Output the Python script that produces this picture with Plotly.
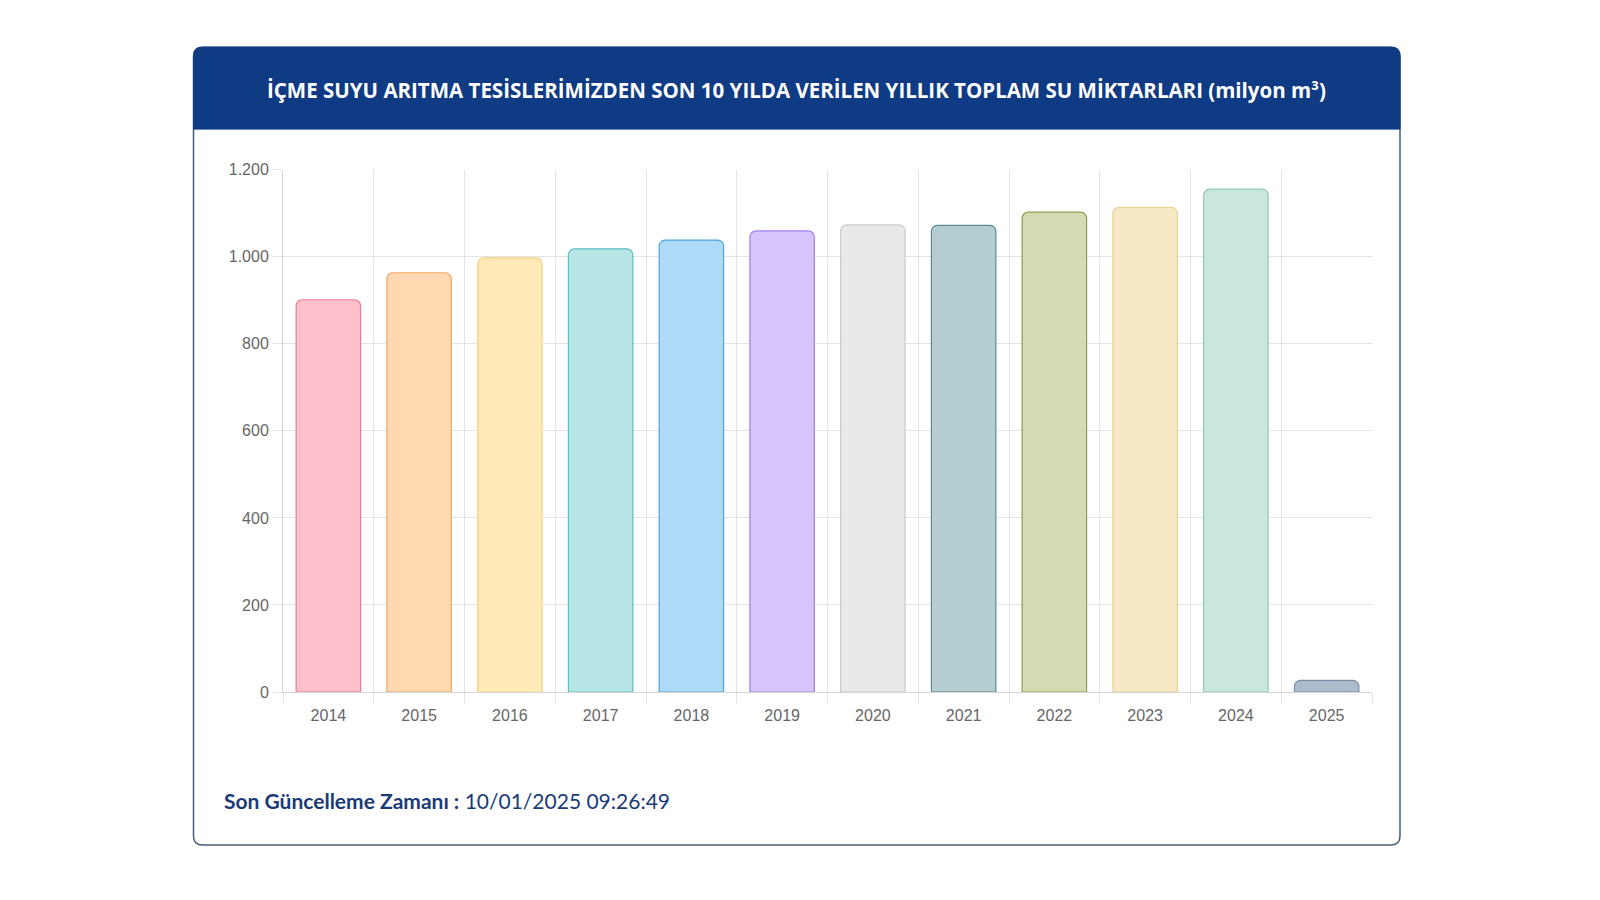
import plotly.graph_objects as go

years = ["2014", "2015", "2016", "2017", "2018", "2019", "2020", "2021", "2022", "2023", "2024", "2025"]
values = [901, 963, 997, 1018, 1038, 1059, 1073, 1072, 1102, 1113, 1155, 27]
fill_colors = ["#ffc0cc", "#ffd8b1", "#ffeab8", "#b8e6e6", "#afdaf7", "#d6c5fd",
               "#e8e9eb", "#b3cdd1", "#d5dab2", "#f7e9c6", "#c9e7dd", "#adbccd"]
line_colors = ["#f07a93", "#f5a962", "#f5d27a", "#5cbdbd", "#4aa6e0", "#a07ef0",
               "#c9cbcf", "#5f8a90", "#8f9a50", "#e6d290", "#94c7b2", "#7c8ea5"]
y_ticks = [0, 200, 400, 600, 800, 1000, 1200]
y_tick_labels = ["0", "200", "400", "600", "800", "1.000", "1.200"]

title_text = "İÇME SUYU ARITMA TESİSLERİMİZDEN SON 10 YILDA VERİLEN YILLIK TOPLAM SU MİKTARLARI (milyon m³)"
footer_label = "Son Güncelleme Zamanı :"
footer_value = "10/01/2025 09:26:49"

W, H = 1600, 900
# empirical vertical correction observed in rendering
Y_OFF, Y_SCALE = 7.3, 0.982


def px(x):
    return x / W


def py(y):
    yc = (y - Y_OFF) / Y_SCALE
    return 1 - yc / H


fig = go.Figure()
fig.add_trace(go.Bar(
    x=years, y=values,
    marker=dict(color=fill_colors, line=dict(color=line_colors, width=1.2), cornerradius=6),
    hoverinfo="x+y",
))

# card geometry (pixels)
L, R, T, B, HB, r = 193.5, 1400, 46.5, 845, 128.5, 9


def card_path():
    return (f"M {px(L+r)},{py(T)} L {px(R-r)},{py(T)} Q {px(R)},{py(T)} {px(R)},{py(T+r)} "
            f"L {px(R)},{py(B-r)} Q {px(R)},{py(B)} {px(R-r)},{py(B)} "
            f"L {px(L+r)},{py(B)} Q {px(L)},{py(B)} {px(L)},{py(B-r)} "
            f"L {px(L)},{py(T+r)} Q {px(L)},{py(T)} {px(L+r)},{py(T)} Z")


def header_path():
    return (f"M {px(L+r)},{py(T)} L {px(R-r)},{py(T)} Q {px(R)},{py(T)} {px(R)},{py(T+r)} "
            f"L {px(R)},{py(HB)} L {px(L)},{py(HB)} "
            f"L {px(L)},{py(T+r)} Q {px(L)},{py(T)} {px(L+r)},{py(T)} Z")


shapes = [
    dict(type="path", xref="paper", yref="paper", path=card_path(),
         fillcolor="white", line=dict(color="#435d7c", width=1.5), layer="below"),
    dict(type="path", xref="paper", yref="paper", path=header_path(),
         fillcolor="#0f3a84", line=dict(color="#0f3a84", width=1), layer="below"),
]

annotations = [
    dict(x=px(796), y=py(89), xref="paper", yref="paper", text=f"<b>{title_text}</b>",
         showarrow=False, xanchor="center", yanchor="middle",
         font=dict(family="Open Sans", size=20.5, color="white")),
    dict(x=px(222), y=py(801), xref="paper", yref="paper",
         text=f"<b>{footer_label}</b> {footer_value}",
         showarrow=False, xanchor="left", yanchor="middle",
         font=dict(family="Lato", size=21, color="#1b3a78")),
]

fig.update_layout(
    width=W, height=H,
    margin=dict(l=0, r=0, t=0, b=0),
    paper_bgcolor="white", plot_bgcolor="rgba(0,0,0,0)",
    showlegend=False,
    bargap=0.29,
    shapes=shapes,
    annotations=annotations,
    xaxis=dict(
        domain=[px(283), px(1372)],
        type="category",
        tickson="boundaries",
        showgrid=True, gridcolor="#e4e4e4", gridwidth=1,
        ticks="outside", ticklen=10, tickcolor="#e0e0e0",
        ticklabelstandoff=9,
        showline=True, linecolor="#d6d6d6", linewidth=1,
        tickfont=dict(family="Liberation Sans", size=16, color="#666666"),
        fixedrange=True,
    ),
    yaxis=dict(
        domain=[py(692), py(169)],
        range=[0, 1200],
        tickvals=y_ticks, ticktext=y_tick_labels,
        showgrid=True, gridcolor="#e4e4e4", gridwidth=1,
        ticks="outside", ticklen=10, tickcolor="#e4e4e4",
        showline=True, linecolor="#d6d6d6", linewidth=1,
        zeroline=False,
        tickfont=dict(family="Liberation Sans", size=16, color="#666666"),
        fixedrange=True,
    ),
)

fig.write_html("out.html")
